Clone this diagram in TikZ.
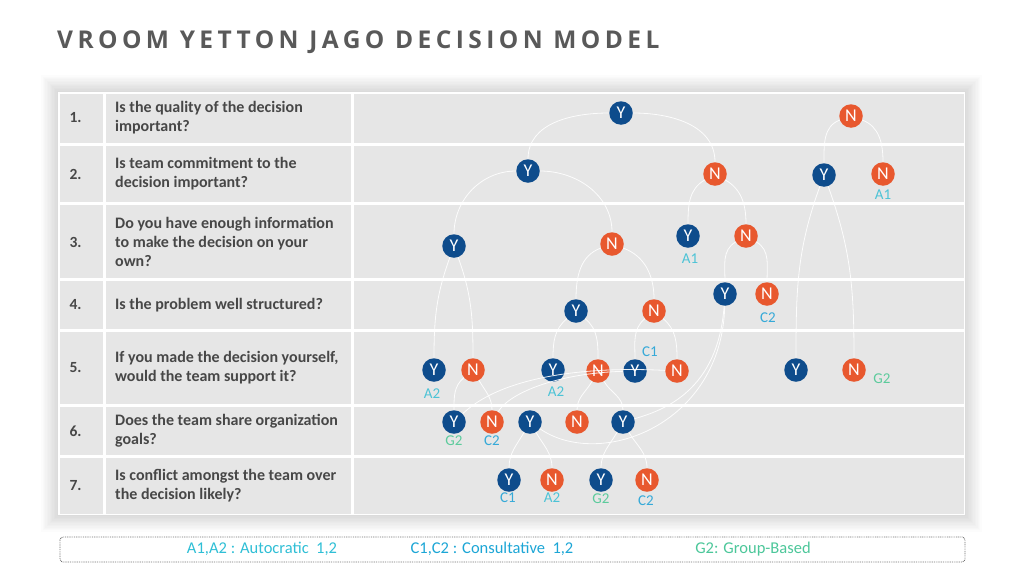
\documentclass[tikz,border=0pt]{standalone}
\usepackage{fontspec}
\setmainfont{Carlito}
\newfontfamily\titlefont[LetterSpace=18]{Open Sans}
\definecolor{ybl}{HTML}{0E4C8C}
\definecolor{nor}{HTML}{E8582E}
\definecolor{cellc}{HTML}{E6E6E6}
\definecolor{qtxt}{HTML}{474747}
\definecolor{ttxt}{HTML}{595959}
\definecolor{labA}{HTML}{4CC3D6}
\definecolor{labC}{HTML}{35A9D8}
\definecolor{labG}{HTML}{5CCB9C}
\definecolor{legA}{HTML}{2FBFD6}
\definecolor{legC}{HTML}{1CA6D6}
\definecolor{legG}{HTML}{4CC79A}
\begin{document}
\begin{tikzpicture}[x=1pt,y=-1pt,
  yn/.style={circle,fill=ybl,minimum size=23.5pt,inner sep=0pt,text=white,font=\fontsize{18}{18}\selectfont},
  nn/.style={yn,fill=nor},
  conn/.style={draw=white,line width=0.8pt,opacity=0.9},
  labA/.style={text=labA,font=\fontsize{15}{15}\selectfont},
  labC/.style={text=labC,font=\fontsize{15}{15}\selectfont},
  labG/.style={text=labG,font=\fontsize{15}{15}\selectfont},
  num/.style={anchor=west,text=qtxt,font=\bfseries\fontsize{15.5}{15.5}\selectfont},
  ques/.style={anchor=west,align=left,text=qtxt,inner sep=0pt,font=\bfseries\fontsize{16}{19}\selectfont},
  leg/.style={font=\fontsize{16.5}{16.5}\selectfont}]
\useasboundingbox (0,0) rectangle (1024,576);
\fill[white] (0,0) rectangle (1024,576);
% title
\node[anchor=west,text=ttxt,inner sep=0pt,font=\titlefont\bfseries\fontsize{24.5}{24.5}\selectfont] (title) at (57,42) {VROOM YETTON JAGO DECISION MODEL};
% shadow
\foreach \i in {1,...,12}
  \fill[black,opacity=0.012] (58-\i*1.4,92-\i*1.4) rectangle (965+\i*1.4,515+\i*1.4);
\fill[white] (58,92) rectangle (965,515);
% cells
\foreach \ya/\yb in {92/144.5,144.5/203.5,203.5/279.5,279.5/330,330/405.5,405.5/456.5,456.5/515}{
  \fill[cellc] (59.5,\ya+1.5) rectangle (103,\yb-1.5);
  \fill[cellc] (106,\ya+1.5) rectangle (350.5,\yb-1.5);
  \fill[cellc] (353.5,\ya+1.5) rectangle (963.5,\yb-1.5);
}
% numbers and questions
\node[num] (n1) at (66,118) {1.};
\node[num] (n2) at (66,174) {2.};
\node[num] (n3) at (66,242) {3.};
\node[num] (n4) at (66,305) {4.};
\node[num] (n5) at (66,368) {5.};
\node[num] (n6) at (66,431) {6.};
\node[num] (n7) at (66,486) {7.};
\node[ques] (q1) at (115,118) {Is the quality of the decision\\important?};
\node[ques] (q2) at (115,174) {Is team commitment to the\\decision important?};
\node[ques] (q3) at (115,242) {Do you have enough information\\to make the decision on your\\own?};
\node[ques] (q4) at (115,305) {Is the problem well structured?};
\node[ques] (q5) at (115,368) {If you made the decision yourself,\\would the team support it?};
\node[ques] (q6) at (115,431) {Does the team share organization\\goals?};
\node[ques] (q7) at (115,486) {Is conflict amongst the team over\\the decision likely?};
% decision nodes
\node[yn] (Y1) at (621,113) {Y};
\node[nn] (N1) at (851,116) {N};
\node[yn] (Y2) at (528,171) {Y};
\node[nn] (N2) at (715,174) {N};
\node[yn] (Y2b) at (824,175) {Y};
\node[nn] (N2b) at (883,174) {N};
\node[yn] (Y3) at (454,246) {Y};
\node[nn] (N3) at (612,244) {N};
\node[yn] (Y3b) at (688,236) {Y};
\node[nn] (N3b) at (746,236) {N};
\node[yn] (Y4) at (576,311) {Y};
\node[nn] (N4) at (654,311) {N};
\node[yn] (Y4b) at (725,294) {Y};
\node[nn] (N4b) at (767,294) {N};
\node[yn] (Y5a) at (434,370) {Y};
\node[nn] (N5a) at (473,370) {N};
\node[yn] (Y5b) at (553,370) {Y};
\node[nn] (N5b) at (598,371) {N};
\node[yn] (Y5c) at (635,371) {Y};
\node[nn] (N5c) at (677,371) {N};
\node[yn] (Y5d) at (796,370) {Y};
\node[nn] (N5d) at (854,370) {N};
\node[yn] (Y6a) at (454,422) {Y};
\node[nn] (N6a) at (492,422) {N};
\node[yn] (Y6b) at (530,422) {Y};
\node[nn] (N6b) at (577,422) {N};
\node[yn] (Y6c) at (623,422) {Y};
\node[yn] (Y7a) at (509,480) {Y};
\node[nn] (N7a) at (552,480) {N};
\node[yn] (Y7b) at (601,480) {Y};
\node[nn] (N7b) at (647,480) {N};
% outcome labels
\node[labA] (l1) at (883,195) {A1};
\node[labA] (l2) at (690,259) {A1};
\node[labC] (l3) at (768,318) {C2};
\node[labA] (l4) at (432,394) {A2};
\node[labA] (l5) at (556,392) {A2};
\node[labC] (l6) at (650,352) {C1};
\node[labG] (l7) at (882,379) {G2};
\node[labG] (l8) at (454,441) {G2};
\node[labC] (l9) at (492,441) {C2};
\node[labC] (l10) at (508,498) {C1};
\node[labA] (l11) at (552,498) {A2};
\node[labG] (l12) at (601,499) {G2};
\node[labC] (l13) at (646,501) {C2};
% connectors
\draw[conn] (Y1) to[out=180,in=90] (Y2);
\draw[conn] (Y1) to[out=0,in=90] (N2);
\draw[conn] (N1) to[out=200,in=90] (Y2b);
\draw[conn] (N1) to[out=340,in=90] (N2b);
\draw[conn] (Y2) to[out=180,in=90] (Y3);
\draw[conn] (Y2) to[out=0,in=90] (N3);
\draw[conn] (N2) to[out=210,in=90] (Y3b);
\draw[conn] (N2) to[out=330,in=90] (N3b);
\draw[conn] (N3) to[out=200,in=90] (Y4);
\draw[conn] (N3) to[out=340,in=90] (N4);
\draw[conn] (N3b) to[out=210,in=90] (Y4b);
\draw[conn] (N3b) to[out=330,in=90] (N4b);
\draw[conn] (Y3) to[out=250,in=90] (Y5a);
\draw[conn] (Y3) to[out=290,in=90] (N5a);
\draw[conn] (Y2b) to[out=250,in=90] (Y5d);
\draw[conn] (Y2b) to[out=290,in=90] (N5d);
\draw[conn] (Y4) to[out=220,in=90] (Y5b);
\draw[conn] (Y4) to[out=320,in=90] (N5b);
\draw[conn] (N4) to[out=220,in=90] (Y5c);
\draw[conn] (N4) to[out=320,in=90] (N5c);
\draw[conn] (N5a) to[out=220,in=90] (Y6a);
\draw[conn] (N5a) to[out=300,in=90] (N6a);
\draw[conn] (N5b) to[out=240,in=90] (N6b);
\draw[conn] (N5b) to[out=300,in=90] (Y6c);
\draw[conn] (Y6b) to[out=240,in=90] (Y7a);
\draw[conn] (Y6b) to[out=300,in=90] (N7a);
\draw[conn] (Y6c) to[out=240,in=90] (Y7b);
\draw[conn] (Y6c) to[out=300,in=90] (N7b);
\draw[conn] (N5c) .. controls (580,366) and (500,378) .. (Y6a);
\draw[conn] (Y5c) .. controls (560,373) and (510,392) .. (N6a);
\draw[conn] (Y4b) .. controls (718,390) and (665,410) .. (Y6c);
\draw[conn] (Y4b) .. controls (722,425) and (600,470) .. (Y6b);
% legend
\draw[black!55,line width=0.9pt,dash pattern=on 0.9pt off 0.9pt,rounded corners=3pt] (60,537) rectangle (965,562);
\node[leg,text=legA] (lg1) at (262,549) {A1,A2 : Autocratic\ \ 1,2};
\node[leg,text=legC] (lg2) at (492,549) {C1,C2 : Consultative\ \ 1,2};
\node[leg,text=legG] (lg3) at (753,549) {G2: Group-Based};
\end{tikzpicture}
\end{document}
